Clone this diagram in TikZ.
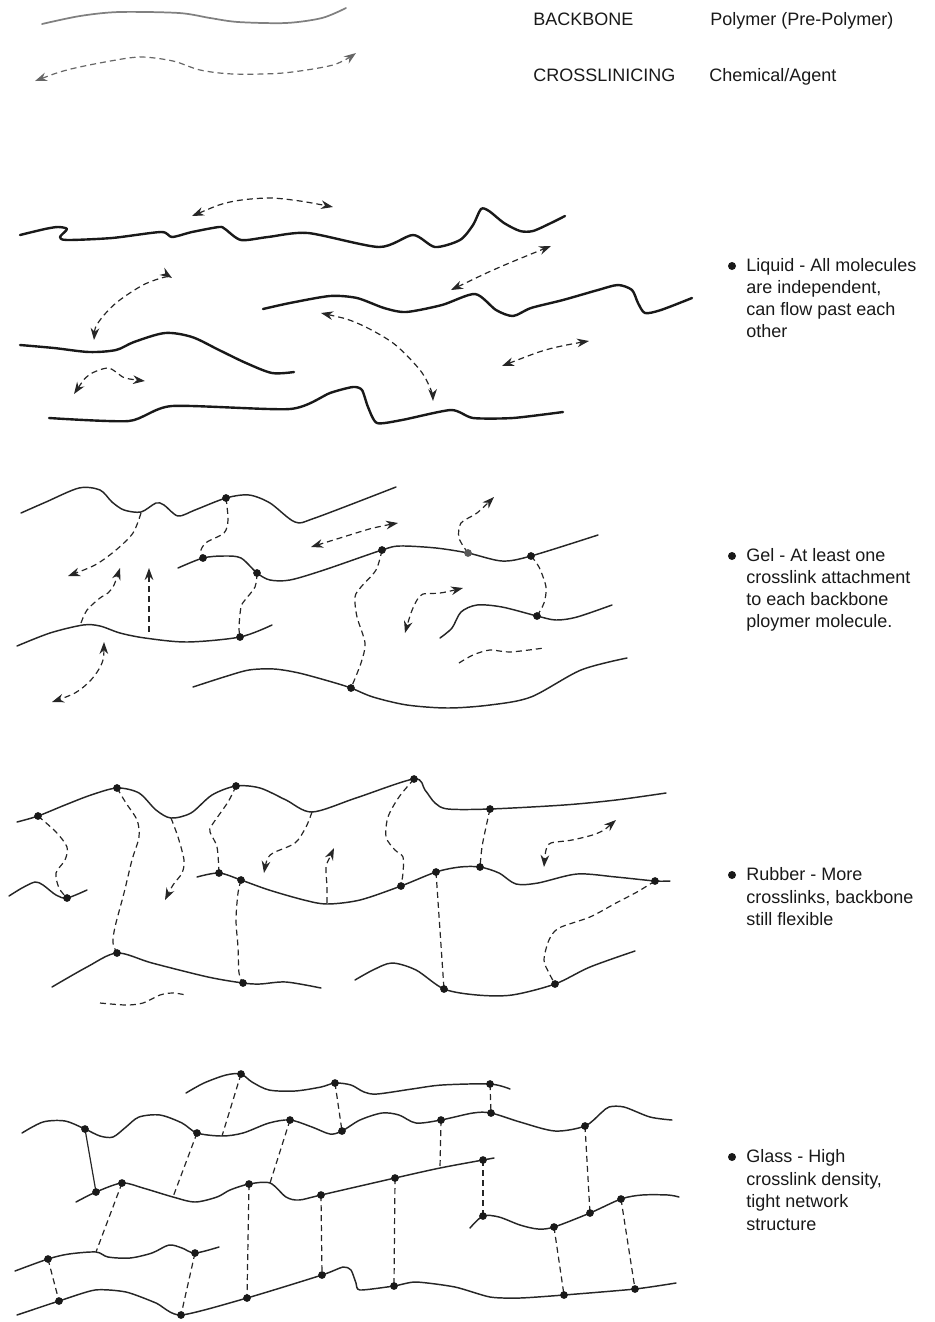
\documentclass[tikz,border=0pt]{standalone}
\usepackage{fontspec}
\setmainfont{Liberation Sans}
\usetikzlibrary{arrows.meta}
\begin{document}
\begin{tikzpicture}[x=0.75pt,y=-0.75pt,
  bb/.style={line width=1.1pt, black!85, line join=round, line cap=round},
  bbthick/.style={line width=1.8pt, black!90, line join=round, line cap=round},
  xl/.style={line width=0.9pt, dash pattern=on 4.5pt off 3pt, black!85},
  arrowend/.style={-{Stealth[length=9pt,width=6.5pt]}},
  arrowboth/.style={{Stealth[length=9pt,width=6.5pt]}-{Stealth[length=9pt,width=6.5pt]}},
  txt/.style={anchor=base west, inner sep=0pt, text=black!90, font=\fontsize{13.5}{16.5}\selectfont},
  bullet/.style={circle, fill=black!90, inner sep=0pt, minimum size=6pt},
  dot/.style={fill=black!90}]
\useasboundingbox (0,0) rectangle (935,1322);

% ---------------- legend ----------------
\draw[line width=1.3pt, black!50, line cap=round]
  plot[smooth] coordinates {(42,24)(80,16)(119,12)(179,13)(210,18)(238,22)(286,23)(322,18)(346,8)};
\draw[xl, black!60, arrowboth]
  plot[smooth] coordinates {(35,81)(67,70)(105,62)(140,57)(173,61)(200,70)(233,74)(283,73)(333,65)(356,53)};
\node[txt] (bbname) at (533,25) {BACKBONE};
\node[txt] (bbdesc) at (710,25) {Polymer (Pre-Polymer)};
\node[txt] (xlname) at (533,81) {CROSSLINICING};
\node[txt] (xldesc) at (709,81) {Chemical/Agent};

% ---------------- liquid ----------------
\draw[bbthick] plot[smooth, tension=0.45] coordinates {(20,235)(45,229)(58,227)(67,229)(60,237)(67,240)(112,238)(161,232)(172,237)(192,232)(219,227)(225,229)(241,240)(268,237)(308,233)(379,247)(413,235)(435,247)(460,240)(473,225)(481,209)(489,211)(504,223)(520,231)(533,231)(551,223)(565,216)};
\draw[bbthick] plot[smooth, tension=0.45] coordinates {(263,309)(290,303)(330,296)(357,298)(384,308)(406,312)(442,305)(475,294)(496,310)(513,316)(531,308)(563,300)(598,290)(618,285)(632,290)(638,303)(645,313)(661,310)(692,298)};
\draw[bbthick] plot[smooth] coordinates {(20,345)(54,348)(89,352)(116,350)(134,342)(165,333)(192,337)(219,350)(246,363)(272,373)(294,372)};
\draw[bbthick] plot[smooth, tension=0.4] coordinates {(49,418)(129,421)(172,406)(290,409)(330,393)(353,387)(362,390)(368,407)(377,423)(402,420)(451,410)(473,418)(513,418)(563,412)};

\draw[xl, arrowboth] plot[smooth] coordinates {(192,216)(230,202)(268,198)(300,201)(333,207)};
\draw[xl, arrowboth] plot[smooth] coordinates {(94,340)(98,323)(116,303)(143,285)(165,277)(172,278)};
\draw[xl, arrowboth] plot[smooth] coordinates {(451,290)(500,267)(551,246)};
\draw[xl, arrowboth] plot[smooth] coordinates {(321,313)(357,323)(393,343)(420,370)(431,390)(433,401)};
\draw[xl, arrowboth] plot[smooth] coordinates {(502,366)(549,349)(589,341)};
\draw[xl, arrowboth] plot[smooth] coordinates {(74,394)(89,375)(107,368)(116,372)(125,378)(145,381)};

\node[bullet] (b1) at (732,266) {};
\node[txt] (liq1) at (746,271) {Liquid - All molecules};
\node[txt] (liq2) at (746,293) {are independent,};
\node[txt] (liq3) at (746,315) {can flow past each};
\node[txt] (liq4) at (746,337) {other};

% ---------------- gel ----------------
\coordinate (g1) at (226,498);
\coordinate (g2) at (203,558);
\coordinate (g3) at (257,573);
\coordinate (g4) at (382,550);
\coordinate (g5) at (468,553);
\coordinate (g6) at (531,556);
\coordinate (g7) at (240,637);
\coordinate (g8) at (537,616);
\coordinate (g9) at (351,688);

\draw[bb] plot[smooth] coordinates {(21,513)(46,502)(79,488)(100,490)(112,502)(124,510)(141,512)(156,503)(164,505)(178,516)(195,510)(g1)(249,495)(270,503)(295,522)(315,518)(396,487)};
\draw[bb] plot[smooth] coordinates {(178,568)(g2)(224,556)(241,558)(g3)(270,580)(290,580)(324,570)(g4)(400,546)(436,548)(g5)(502,561)(g6)(598,535)};
\draw[bb] plot[smooth] coordinates {(17,646)(50,633)(83,625)(100,626)(120,633)(145,638)(187,642)(g7)(272,625)};
\draw[bb] plot[smooth] coordinates {(440,638)(452,628)(461,612)(477,605)(502,607)(g8)(556,620)(577,617)(612,605)};
\draw[bb] plot[smooth] coordinates {(193,687)(224,677)(249,670)(274,669)(299,673)(332,682)(g9)(373,697)(407,705)(448,708)(490,705)(531,697)(581,670)(627,658)};

\draw[xl] plot[smooth] coordinates {(g1)(228,520)(224,533)(207,542)(201,550)(g2)};
\draw[xl] plot[smooth] coordinates {(g3)(255,587)(245,600)(241,607)(239,627)(g7)};
\draw[xl] plot[smooth] coordinates {(g4)(376,570)(361,587)(355,597)(357,617)(365,643)(361,663)(g9)};
\draw[xl] plot[smooth] coordinates {(g6)(539,567)(546,587)(544,603)(g8)};
\draw[xl, arrowend] plot[smooth] coordinates {(g5)(459,538)(461,523)(477,513)(494,497)};
\draw[xl, arrowend] plot[smooth] coordinates {(141,513)(133,533)(116,550)(95,565)(68,576)};
\draw[xl, arrowend] plot[smooth] coordinates {(81,623)(87,610)(100,598)(108,593)(114,585)(120,568)};
\draw[xl, arrowend] (149,632) -- (149,568);
\draw[xl, arrowboth] plot[smooth] coordinates {(104,642)(102,663)(91,680)(75,693)(52,702)};
\draw[xl, arrowboth] plot[smooth] coordinates {(398,523)(373,528)(340,538)(311,547)};
\draw[xl, arrowboth] plot[smooth] coordinates {(463,588)(440,593)(423,594)(417,600)(411,613)(405,633)};
\draw[xl] plot[smooth] coordinates {(459,663)(473,655)(490,650)(510,652)(544,648)};

\foreach \d in {g1,g2,g3,g4,g6,g7,g8,g9} \fill[dot] (\d) circle (2.9pt);
\fill[black!65] (g5) circle (2.9pt);

\node[bullet] (b2) at (732,556) {};
\node[txt] (gel1) at (746,561) {Gel - At least one};
\node[txt] (gel2) at (746,583) {crosslink attachment};
\node[txt] (gel3) at (746,605) {to each backbone};
\node[txt] (gel4) at (746,627) {ploymer molecule.};

% ---------------- rubber ----------------
\coordinate (r1) at (38,816);
\coordinate (r2) at (117,788);
\coordinate (r3) at (236,786);
\coordinate (r4) at (414,779);
\coordinate (r5) at (490,809);
\coordinate (r6) at (67,898);
\coordinate (r7) at (219,873);
\coordinate (r8) at (241,880);
\coordinate (r9) at (401,886);
\coordinate (r10) at (436,872);
\coordinate (r11) at (480,867);
\coordinate (r12) at (655,881);
\coordinate (r13) at (117,953);
\coordinate (r14) at (243,983);
\coordinate (r15) at (444,989);
\coordinate (r16) at (555,984);

\draw[bb] plot[smooth] coordinates {(17,822)(r1)(65,805)(91,795)(r2)(139,793)(156,810)(171,818)(191,813)(212,795)(r3)(260,788)(286,800)(312,812)(356,798)(r4)(425,790)(435,803)(448,809)(r5)(564,805)(616,800)(666,793)};
\draw[bb] plot[smooth] coordinates {(9,896)(22,888)(35,882)(43,885)(56,895)(r6)(87,890)};
\draw[bb] plot[smooth] coordinates {(197,877)(r7)(r8)(269,890)(304,900)(327,904)(360,900)(r9)(r10)(460,867)(r11)(499,873)(516,884)(538,883)(577,874)(616,877)(r12)(670,881)};
\draw[bb] plot[smooth] coordinates {(52,987)(87,967)(r13)(152,963)(208,977)(r14)(260,984)(286,982)(321,988)};
\draw[bb] plot[smooth] coordinates {(355,980)(373,970)(392,963)(416,970)(r15)(477,995)(512,995)(r16)(590,967)(635,951)};

\draw[xl] plot[smooth] coordinates {(r1)(56,832)(67,847)(65,860)(56,873)(59,888)(r6)};
\draw[xl] plot[smooth] coordinates {(r2)(126,803)(137,820)(139,837)(132,860)(124,893)(115,927)(113,943)(r13)};
\draw[xl, arrowend] plot[smooth] coordinates {(171,818)(178,837)(184,860)(182,873)(173,885)(165,900)};
\draw[xl] plot[smooth] coordinates {(r3)(228,802)(212,825)(210,832)(217,847)(r7)};
\draw[xl] plot[smooth] coordinates {(r8)(238,893)(236,920)(238,947)(239,973)(r14)};
\draw[xl, arrowend] plot[smooth] coordinates {(312,812)(306,827)(295,843)(273,853)(267,860)(264,873)};
\draw[xl, arrowend] plot[smooth] coordinates {(327,903)(327,887)(326,867)(330,857)(334,848)};
\draw[xl] plot[smooth] coordinates {(r4)(399,797)(388,817)(386,837)(395,850)(403,857)(403,873)(r9)};
\draw[xl] plot[smooth] coordinates {(r5)(486,827)(482,847)(r11)};
\draw[xl] (r10) -- (r15);
\draw[xl] plot[smooth] coordinates {(r12)(637,892)(616,903)(590,917)(559,928)(549,940)(544,960)(549,973)(r16)};
\draw[xl, arrowboth] plot[smooth] coordinates {(616,820)(598,833)(572,840)(551,843)(546,850)(544,867)};
\draw[xl] plot[smooth] coordinates {(100,1003)(126,1005)(143,1003)(160,995)(173,993)(186,995)};

\foreach \d in {r1,r2,r3,r4,r5,r6,r7,r8,r9,r10,r11,r12,r13,r14,r15,r16} \fill[dot] (\d) circle (2.9pt);

\node[bullet] (b3) at (732,875) {};
\node[txt] (rub1) at (746,880) {Rubber - More};
\node[txt] (rub2) at (746,903) {crosslinks, backbone};
\node[txt] (rub3) at (746,925) {still flexible};

% ---------------- glass ----------------
\coordinate (a1) at (241,1074);
\coordinate (a2) at (335,1083);
\coordinate (a3) at (490,1084);
\coordinate (n1) at (85,1129);
\coordinate (n2) at (197,1133);
\coordinate (n3) at (290,1120);
\coordinate (n4) at (342,1131);
\coordinate (n5) at (441,1120);
\coordinate (n6) at (491,1113);
\coordinate (n7) at (585,1126);
\coordinate (c1) at (96,1192);
\coordinate (c2) at (122,1183);
\coordinate (c3) at (249,1184);
\coordinate (c4) at (321,1195);
\coordinate (c5) at (395,1178);
\coordinate (c6) at (483,1160);
\coordinate (e1) at (483,1216);
\coordinate (e2) at (554,1227);
\coordinate (e3) at (590,1213);
\coordinate (e4) at (621,1199);
\coordinate (f1) at (48,1259);
\coordinate (f2) at (195,1253);
\coordinate (h1) at (59,1301);
\coordinate (h2) at (181,1315);
\coordinate (h3) at (247,1298);
\coordinate (h4) at (322,1275);
\coordinate (h5) at (394,1286);
\coordinate (h6) at (564,1295);
\coordinate (h7) at (635,1289);
% free ends of links that meet a chain without a junction dot
\coordinate (m1) at (222,1136);
\coordinate (m2) at (173,1197);
\coordinate (m3) at (270,1183);
\coordinate (m4) at (440,1168);
\coordinate (m5) at (96,1252);

\draw[bb] plot[smooth] coordinates {(186,1093)(204,1083)(226,1075)(a1)(252,1082)(269,1090)(295,1091)(321,1087)(a2)(351,1085)(364,1092)(377,1094)(412,1089)(442,1085)(a3)(510,1089)};
\draw[bb] plot[smooth] coordinates {(22,1133)(43,1122)(65,1121)(n1)(100,1136)(113,1137)(126,1127)(139,1117)(160,1115)(182,1123)(n2)(m1)(243,1133)(269,1123)(n3)(312,1127)(330,1134)(n4)(360,1120)(382,1113)(399,1115)(416,1123)(n5)(473,1113)(n6)(520,1122)(555,1131)(n7)(601,1113)(609,1107)(624,1107)(650,1117)(672,1120)};
\draw[bb] plot[smooth] coordinates {(76,1202)(c1)(c2)(143,1188)(m2)(195,1202)(217,1197)(230,1190)(c3)(m3)(286,1197)(299,1200)(c4)(c5)(m4)(c6)(494,1158)};
\draw[bb] plot[smooth] coordinates {(470,1228)(e1)(499,1217)(520,1225)(538,1229)(e2)(e3)(e4)(642,1195)(668,1195)(679,1197)};
\draw[bb] plot[smooth] coordinates {(15,1271)(f1)(69,1254)(m5)(108,1257)(130,1258)(152,1253)(169,1245)(182,1248)(f2)(219,1247)};
\draw[bb] plot[smooth, tension=0.4] coordinates {(17,1315)(h1)(95,1290)(126,1292)(156,1303)(h2)(h3)(h4)(343,1267)(351,1270)(356,1283)(360,1290)(h5)(416,1282)(455,1287)(490,1297)(520,1298)(h6)(h7)(676,1283)};

\draw[xl] (a1) -- (m1);
\draw[xl] (a2) -- (n4);
\draw[xl] (a3) -- (n6);
\draw[bb, line width=0.9pt] (n1) -- (c1);
\draw[xl] (n2) -- (m2);
\draw[xl] (n3) -- (m3);
\draw[xl] (n5) -- (m4);
\draw[xl] (n7) -- (e3);
\draw[xl] (c2) -- (m5);
\draw[xl] (c3) -- (h3);
\draw[xl] (c4) -- (h4);
\draw[xl] (c5) -- (h5);
\draw[xl] (c6) -- (e1);
\draw[xl] (e2) -- (h6);
\draw[xl] (e4) -- (h7);
\draw[xl] (f1) -- (h1);
\draw[xl] (f2) -- (h2);

\foreach \d in {a1,a2,a3,n1,n2,n3,n4,n5,n6,n7,c1,c2,c3,c4,c5,c6,e1,e2,e3,e4,f1,f2,h1,h2,h3,h4,h5,h6,h7} \fill[dot] (\d) circle (2.9pt);

\node[bullet] (b4) at (732,1157) {};
\node[txt] (gla1) at (746,1162) {Glass - High};
\node[txt] (gla2) at (746,1185) {crosslink density,};
\node[txt] (gla3) at (746,1207) {tight network};
\node[txt] (gla4) at (746,1230) {structure};
\end{tikzpicture}
\end{document}
